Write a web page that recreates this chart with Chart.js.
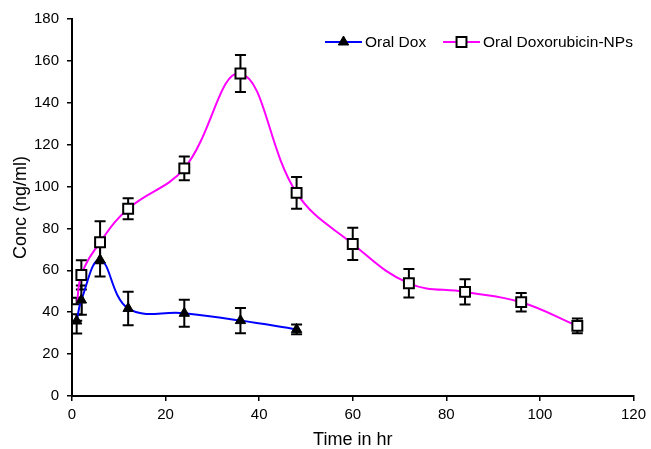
<!DOCTYPE html>
<html>
<head>
<meta charset="utf-8">
<script src="https://cdn.jsdelivr.net/npm/chart.js@4.4.0/dist/chart.umd.min.js"></script>
<style>
  html, body { margin: 0; padding: 0; background: #fff; }
  #wrap { width: 651px; height: 449px; }
</style>
</head>
<body>
<div id="wrap"><canvas id="myChart"></canvas></div>
<script>
// time points (hr)
const timesDox = [1, 2, 6, 12, 24, 36, 48];
const timesNP = [1, 2, 6, 12, 24, 36, 48, 60, 72, 84, 96, 108];

// concentrations (ng/ml) and error bars
const oralDox = [35.8, 45.8, 65, 41.8, 39.5, 36, 31.8];
const oralDoxErr = [6, 7, 8, 8, 6.4, 6, 2.3];
const oralNP = [41.4, 57.8, 73.4, 89.4, 108.7, 154, 97, 72.6, 53.8, 49.7, 44.8, 33.5];
const oralNPErr = [5.5, 7, 10, 5, 5.7, 8.8, 7.6, 7.7, 6.8, 6, 4.4, 3.5];

const seriesLabels = ['Oral Dox', 'Oral Doxorubicin-NPs'];
const xTicks = { min: 0, max: 120, step: 20 };
const yTicks = { min: 0, max: 180, step: 20 };

const FONT = 'Arial, "Liberation Sans", sans-serif';

// error bars, drawn under the lines and markers
const errorBars = {
  id: 'errorBars',
  beforeDatasetsDraw(chart) {
    const ctx = chart.ctx;
    const yScale = chart.scales.y;
    ctx.save();
    ctx.strokeStyle = '#000';
    ctx.lineWidth = 2;
    chart.data.datasets.forEach((ds, i) => {
      const meta = chart.getDatasetMeta(i);
      meta.data.forEach((pt, j) => {
        const v = ds.data[j].y;
        const e = ds.errors[j];
        const top = yScale.getPixelForValue(v + e);
        const bot = yScale.getPixelForValue(v - e);
        const x = pt.x;
        ctx.beginPath();
        ctx.moveTo(x, top); ctx.lineTo(x, bot);
        ctx.moveTo(x - 5.5, top); ctx.lineTo(x + 5.5, top);
        ctx.moveTo(x - 5.5, bot); ctx.lineTo(x + 5.5, bot);
        ctx.stroke();
      });
    });
    ctx.restore();
  }
};

// excel style legend: line + marker + text
const lineLegend = {
  id: 'lineLegend',
  afterDraw(chart) {
    const ctx = chart.ctx;
    const items = [
      { x0: 325, x1: 362, ds: chart.data.datasets[0] },
      { x0: 443, x1: 480, ds: chart.data.datasets[1] }
    ];
    const y = 42;
    ctx.save();
    items.forEach(it => {
      ctx.strokeStyle = it.ds.borderColor;
      ctx.lineWidth = 2;
      ctx.beginPath();
      ctx.moveTo(it.x0, y); ctx.lineTo(it.x1, y);
      ctx.stroke();
      Chart.helpers.drawPoint(ctx, {
        pointStyle: it.ds.pointStyle,
        radius: it.ds.pointRadius,
        borderWidth: it.ds.pointBorderWidth
      }, (it.x0 + it.x1) / 2, y);
      ctx.fillStyle = '#000';
      ctx.font = '15.5px ' + FONT;
      ctx.textAlign = 'left';
      ctx.textBaseline = 'middle';
      ctx.fillText(it.ds.label, it.x1 + 3, y + 1);
    });
    ctx.restore();
  }
};

// drawPoint uses current ctx fill/stroke, so set them before
const _drawPoint = Chart.helpers.drawPoint;
Chart.helpers.drawPoint = function (ctx, opts, x, y) {
  ctx.fillStyle = opts.pointStyle === 'rect' ? '#fff' : '#000';
  ctx.strokeStyle = '#000';
  ctx.lineWidth = opts.borderWidth;
  _drawPoint(ctx, opts, x, y);
};

const ctx = document.getElementById('myChart').getContext('2d');

const pkChart = new Chart(ctx, {
  type: 'line',
  data: {
    datasets: [{
      label: seriesLabels[0],
      data: timesDox.map((t, i) => ({ x: t, y: oralDox[i] })),
      errors: oralDoxErr,
      borderColor: '#0000FF',
      borderWidth: 2,
      tension: 0.4,
      pointStyle: 'triangle',
      pointRadius: 6,
      pointBackgroundColor: '#000',
      pointBorderColor: '#000',
      pointBorderWidth: 1,
      fill: false
    }, {
      label: seriesLabels[1],
      data: timesNP.map((t, i) => ({ x: t, y: oralNP[i] })),
      errors: oralNPErr,
      borderColor: '#FF00FF',
      borderWidth: 2,
      tension: 0.4,
      pointStyle: 'rect',
      pointRadius: 7,
      pointBackgroundColor: '#fff',
      pointBorderColor: '#000',
      pointBorderWidth: 2,
      fill: false
    }]
  },
  options: {
    responsive: true,
    maintainAspectRatio: false,
    animation: false,
    layout: { padding: { left: 0, right: 14, top: 19, bottom: 0 } },
    plugins: {
      legend: { display: false },
      tooltip: { enabled: false }
    },
    scales: {
      x: {
        type: 'linear',
        min: xTicks.min,
        max: xTicks.max,
        afterFit(scale) { scale.height = 53; },
        ticks: {
          stepSize: xTicks.step,
          color: '#000',
          padding: 5,
          font: { family: FONT, size: 15 }
        },
        grid: { drawOnChartArea: false, drawTicks: true, tickLength: 5, color: '#000', lineWidth: 1.5 },
        border: { color: '#000', width: 2 },
        title: {
          display: true,
          text: 'Time in hr',
          color: '#000',
          padding: 0,
          font: { family: FONT, size: 18, lineHeight: 1 }
        }
      },
      y: {
        min: yTicks.min,
        max: yTicks.max,
        afterFit(scale) { scale.width = 72; },
        ticks: {
          stepSize: yTicks.step,
          color: '#000',
          padding: 8,
          font: { family: FONT, size: 15 }
        },
        grid: { drawOnChartArea: false, drawTicks: true, tickLength: 5, color: '#000', lineWidth: 1.5 },
        border: { color: '#000', width: 2 },
        title: {
          display: true,
          text: 'Conc (ng/ml)',
          color: '#000',
          padding: { top: 12, bottom: 0 },
          font: { family: FONT, size: 18, lineHeight: 1 }
        }
      }
    }
  },
  plugins: [errorBars, lineLegend]
});
</script>
</body>
</html>
